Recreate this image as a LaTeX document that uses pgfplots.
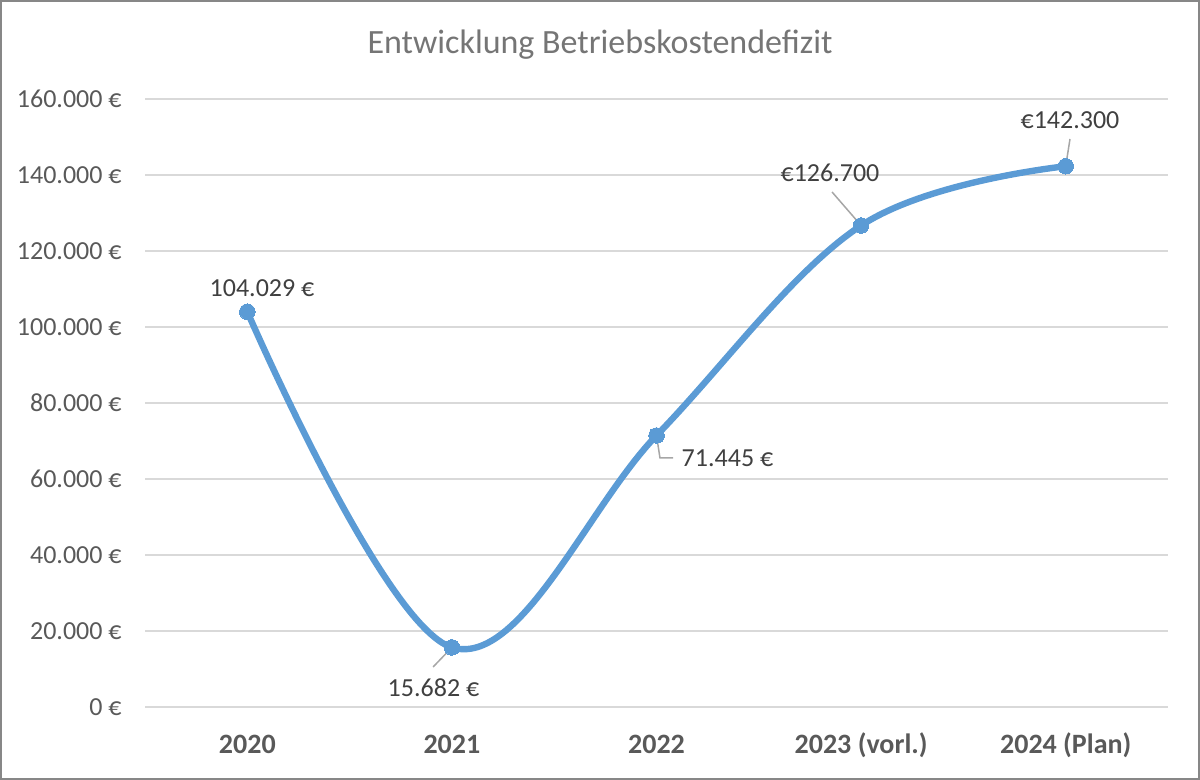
\documentclass[border=0pt]{standalone}
\usepackage{pgfplots}
\pgfplotsset{compat=1.18}
\usepackage{fontspec}
\setmainfont{Carlito}
\definecolor{linec}{HTML}{5B9BD5}
\definecolor{gridc}{HTML}{D9D9D9}
\definecolor{tickc}{HTML}{595959}
\definecolor{labc}{HTML}{404040}
\definecolor{titlec}{HTML}{757575}
\definecolor{bordc}{HTML}{878787}
\definecolor{leadc}{HTML}{A6A6A6}
\begin{document}
\begin{tikzpicture}
\path[use as bounding box] (0pt,0pt) rectangle (600pt,390pt);
\draw[color=bordc, line width=1pt] (0.5pt,0.5pt) rectangle (599.5pt,389.5pt);
\node[text=titlec, font=\fontsize{17}{20}\selectfont, inner sep=0pt] at (300pt,367.5pt) {Entwicklung Betriebskostendefizit};
\begin{axis}[
  at={(72.5pt,36.5pt)}, anchor=south west,
  scale only axis, width=511.5pt, height=304pt,
  xmin=-0.5, xmax=4.5, ymin=0, ymax=160000,
  clip=false,
  scaled y ticks=false,
  axis line style={draw=none},
  major tick style={draw=none},
  ymajorgrids, grid style={color=gridc, line width=0.75pt},
  xtick={0,1,2,3,4},
  xticklabels={2020,2021,2022,2023 (vorl.),2024 (Plan)},
  ytick={0,20000,40000,60000,80000,100000,120000,140000,160000},
  yticklabels={0 €,20.000 €,40.000 €,60.000 €,80.000 €,100.000 €,120.000 €,140.000 €,160.000 €},
  yticklabel style={anchor=east, inner sep=0pt, xshift=-11.5pt, text=tickc, font=\fontsize{13}{15}\selectfont},
  xticklabel style={anchor=base, inner sep=0pt, yshift=-23.5pt, text=tickc, font=\fontsize{14}{16}\selectfont\bfseries},
]
\addplot[smooth, tension=0.6, color=linec, line width=3.2pt, mark=*, mark size=3.9pt,
  mark options={fill=linec, draw=linec, line width=0pt}]
  coordinates {(0,104029) (1,15682) (2,71445) (3,126700) (4,142300)};
\draw[leadc, line width=0.75pt] (axis cs:0.908,10526) -- (axis cs:1,15682);
\draw[leadc, line width=0.75pt] (axis cs:2,71445) -- (axis cs:2.017,65526) -- (axis cs:2.081,65526);
\draw[leadc, line width=0.75pt] (axis cs:2.858,135526) -- (axis cs:3,126700);
\draw[leadc, line width=0.75pt] (axis cs:4.021,149474) -- (axis cs:4,142300);
\begin{scope}[every node/.style={text=labc, font=\fontsize{13}{15}\selectfont, inner sep=0pt}]
\node at (axis cs:0.072,110263) {104.029 €};
\node at (axis cs:0.910,5000) {15.682 €};
\node at (axis cs:2.347,65526) {71.445 €};
\node at (axis cs:2.848,140526) {€126.700};
\node at (axis cs:4.021,154474) {€142.300};
\end{scope}
\end{axis}
\end{tikzpicture}
\end{document}
